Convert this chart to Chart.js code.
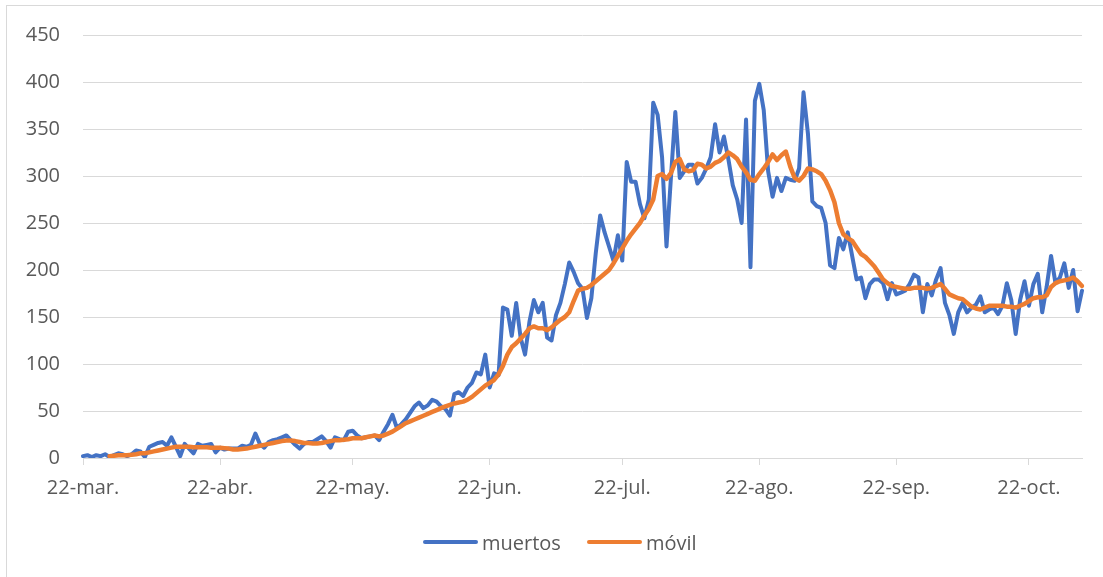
<!DOCTYPE html>
<html lang="es">
<head>
<meta charset="utf-8">
<title>muertos / móvil</title>
<script src="https://cdn.jsdelivr.net/npm/chart.js@4.4.1/dist/chart.umd.min.js"></script>
<style>
  html, body { margin: 0; padding: 0; background: #ffffff; }
  #wrap { position: relative; width: 1103px; height: 577px; overflow: hidden; font-family: 'Open Sans', 'Noto Sans', sans-serif; }
  #frame { position: absolute; left: 6px; top: 5px; width: 1200px; height: 700px; border-left: 1px solid #d9d9d9; border-top: 1px solid #d9d9d9; }
  #chartBox { position: absolute; left: 0; top: 0; width: 1103px; height: 577px; }
  .legend-item { position: absolute; top: 529px; height: 26px; display: flex; align-items: center; color: #595959; font-size: 20px; }
  .legend-line { width: 55px; height: 4px; border-radius: 2px; margin-right: 4px; }
</style>
</head>
<body>
<div id="wrap">
  <div id="frame"></div>
  <div id="chartBox"><canvas id="deathsChart"></canvas></div>
  <div id="chartLegend"></div>
</div>
<script>
// primer día de la serie: 22-mar
const startDay = new Date(2020, 2, 22);

const tickDays = [0, 31, 61, 92, 122, 153, 184, 214];
const tickLabels = ['22-mar.', '22-abr.', '22-may.', '22-jun.', '22-jul.', '22-ago.', '22-sep.', '22-oct.'];

const muertos = [
    2, 3, 1, 3, 2, 4, 1, 3, 5, 4,
    2, 4, 8, 7, 1, 12, 14, 16, 17, 13,
    22, 12, 2, 15, 10, 5, 15, 13, 14, 15,
    6, 11, 9, 10, 10, 10, 13, 12, 14, 26,
    15, 11, 17, 19, 20, 22, 24, 19, 14, 10,
    15, 17, 17, 20, 23, 18, 11, 22, 20, 19,
    28, 29, 24, 21, 22, 23, 24, 19, 28, 36,
    46, 32, 36, 41, 48, 55, 59, 53, 56, 62,
    60, 55, 52, 45, 68, 70, 66, 75, 80, 91,
    89, 110, 75, 90, 88, 160, 158, 130, 165, 128,
    110, 145, 168, 155, 165, 128, 125, 152, 165, 185,
    208, 198, 186, 180, 149, 170, 218, 258, 240, 225,
    210, 237, 210, 315, 294, 294, 270, 255, 275, 378,
    365, 320, 225, 298, 368, 298, 305, 312, 312, 292,
    298, 308, 320, 355, 325, 342, 318, 290, 275, 250,
    360, 203, 380, 398, 370, 305, 278, 298, 284, 298,
    296, 295, 308, 389, 345, 273, 268, 266, 250, 205,
    202, 234, 222, 240, 215, 190, 192, 170, 185, 190,
    190, 186, 169, 186, 174, 176, 178, 185, 195, 192,
    155, 185, 173, 190, 202, 165, 152, 132, 155, 165,
    155, 160, 163, 172, 155, 158, 160, 153, 162, 186,
    168, 132, 168, 188, 162, 185, 196, 155, 182, 215,
    186, 192, 207, 181, 200, 156, 178
];

const movil = [
    null, null, null, null, null, null, 2, 2.5, 3, 3,
    3, 3.5, 4, 5, 5, 6, 7, 8, 9, 10,
    11, 12, 12, 12, 12, 11.5, 11.5, 11.5, 11.5, 11,
    11, 11, 10.5, 10, 9, 9, 9.5, 10, 11, 12,
    13, 14, 15, 16, 17, 18, 18.5, 18.5, 18, 17,
    16, 16, 15.5, 15.5, 16, 17, 18, 19, 19, 19.5,
    20, 21, 21, 21, 22, 23, 24, 23, 24, 26,
    28, 31, 34, 37, 39, 41, 43, 45, 47, 49,
    51, 53, 55, 56.5, 58, 59, 60, 62, 65, 69,
    73, 77, 80, 83, 89, 98, 110, 118, 122, 127,
    132, 138, 140, 138, 138, 136, 139, 143, 147, 150,
    155, 167, 178, 180, 181, 184, 188, 192, 196, 200,
    207, 215, 223, 231, 238, 244, 250, 258, 265, 275,
    300, 302, 297, 303, 315, 318, 307, 305, 306, 313,
    312, 308, 310, 314, 316, 320, 325, 322, 318, 310,
    304, 296, 295, 302, 308, 315, 323, 317, 322, 326,
    310, 298, 295, 300, 308, 307, 305, 302, 295, 285,
    272, 250, 238, 234, 231, 224, 217, 214, 209, 204,
    197, 190, 186, 183, 182, 181, 180, 180, 181, 181,
    181, 180, 181, 183, 185, 180, 174, 172, 170, 169,
    165, 161, 159, 158, 160, 162, 162, 162, 162, 161,
    161, 160, 162, 164, 167, 170, 171, 171, 173, 182,
    186, 188, 189, 190, 192, 188, 183
];

const yMax = 450;
const yStep = 50;

function buildDayLabels(count) {
    const labels = [];
    for (let i = 0; i < count; i++) {
        const d = new Date(startDay);
        d.setDate(startDay.getDate() + i);
        labels.push(d.toISOString().slice(0, 10));
    }
    return labels;
}

document.addEventListener('DOMContentLoaded', function () {
    const ctx = document.getElementById('deathsChart');
    const chartLegend = document.getElementById('chartLegend');
    const labels = buildDayLabels(muertos.length);
    const font = { family: "'Open Sans', 'Noto Sans', sans-serif", size: 20 };

    const chart = new Chart(ctx, {
        type: 'line',
        data: {
            labels: labels,
            datasets: [
                {
                    label: 'muertos',
                    data: muertos,
                    borderColor: '#4472c4',
                    backgroundColor: '#4472c4',
                    borderWidth: 4,
                    borderJoinStyle: 'round',
                    borderCapStyle: 'round',
                    pointRadius: 0,
                    tension: 0,
                    order: 2
                },
                {
                    label: 'móvil',
                    data: movil,
                    borderColor: '#ed7d31',
                    backgroundColor: '#ed7d31',
                    borderWidth: 4.5,
                    borderJoinStyle: 'round',
                    borderCapStyle: 'round',
                    pointRadius: 0,
                    tension: 0,
                    order: 1
                }
            ]
        },
        options: {
            responsive: true,
            maintainAspectRatio: false,
            animation: false,
            layout: {
                padding: { left: 0, right: 21, top: 22, bottom: 66 }
            },
            plugins: {
                legend: { display: false },
                tooltip: { enabled: false }
            },
            scales: {
                x: {
                    type: 'category',
                    offset: false,
                    grid: {
                        drawOnChartArea: false,
                        drawTicks: true,
                        tickLength: 7,
                        color: '#d9d9d9'
                    },
                    border: { color: '#d9d9d9' },
                    ticks: {
                        autoSkip: false,
                        maxRotation: 0,
                        minRotation: 0,
                        padding: 11,
                        color: '#595959',
                        font: font,
                        callback: function (value, index) {
                            const k = tickDays.indexOf(index);
                            return k >= 0 ? tickLabels[k] : null;
                        }
                    }
                },
                y: {
                    min: 0,
                    max: yMax,
                    afterFit: function (scale) { scale.width = 83; },
                    grid: {
                        color: '#d9d9d9',
                        drawTicks: false
                    },
                    border: { display: false },
                    ticks: {
                        stepSize: yStep,
                        padding: 23,
                        color: '#595959',
                        font: font
                    }
                }
            }
        }
    });

    // leyenda en HTML, debajo del eje
    const legendLeft = [423, 587];
    chart.data.datasets.forEach((dataset, index) => {
        const item = document.createElement('div');
        item.className = 'legend-item';
        item.style.left = legendLeft[index] + 'px';
        item.innerHTML = `<span class="legend-line" style="background-color: ${dataset.borderColor};"></span><span>${dataset.label}</span>`;
        chartLegend.appendChild(item);
    });
});
</script>
</body>
</html>
